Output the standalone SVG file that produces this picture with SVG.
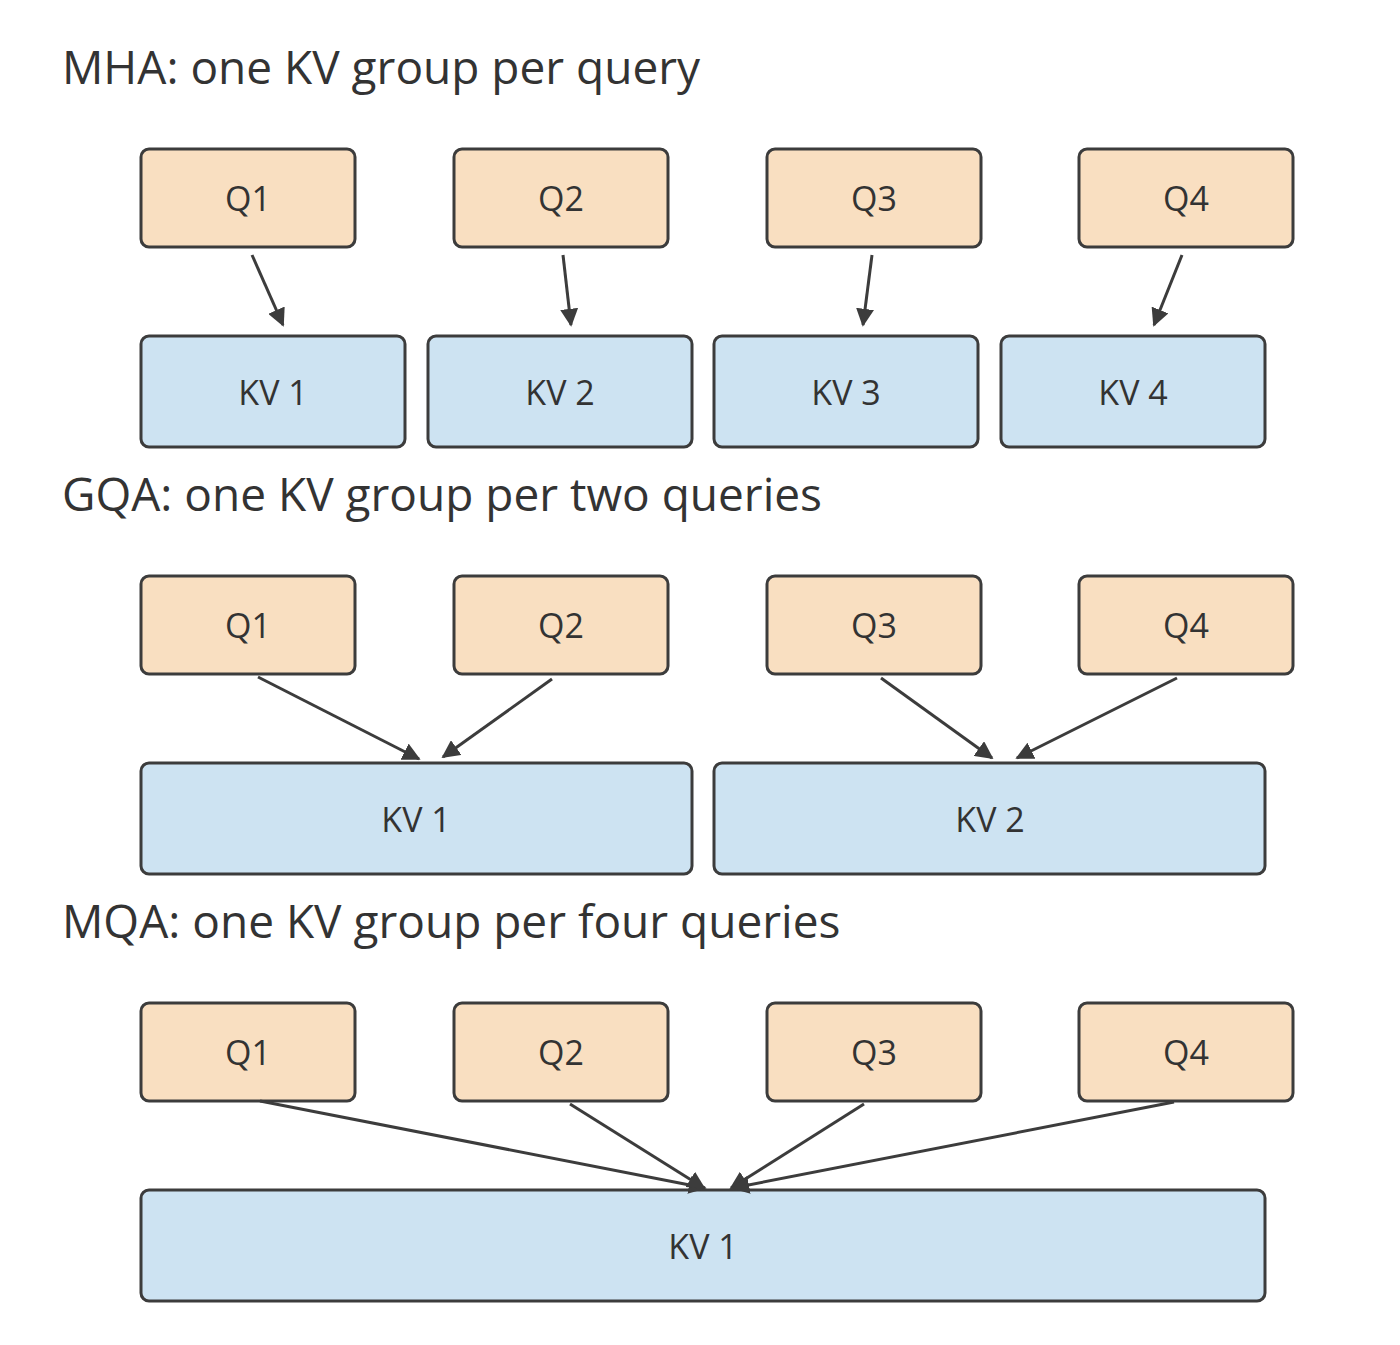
<svg xmlns="http://www.w3.org/2000/svg" width="1400" height="1345" viewBox="0 0 1400 1345">
<style>
.t{font-family:"Open Sans","Noto Sans",sans-serif;font-size:46px;fill:#333}
.l{font-family:"Open Sans","Noto Sans",sans-serif;font-size:34px;fill:#333;text-anchor:middle;dominant-baseline:central}
.q{fill:#f9dfc1;stroke:#3c3c3c;stroke-width:3}
.k{fill:#cde3f2;stroke:#3c3c3c;stroke-width:3}
.c{stroke:#3c3c3c;stroke-width:3;fill:none;marker-end:url(#a)}
</style>
<defs><marker id="a" viewBox="0 0 10 10" refX="9" refY="5" markerWidth="6" markerHeight="6" orient="auto" markerUnits="strokeWidth"><path d="M0,0L10,5L0,10z" fill="#3c3c3c"/></marker></defs>
<rect width="1400" height="1345" fill="#fff"/>
<text class="t" x="62" y="84">MHA: one KV group per query</text>
<text class="t" x="62" y="511">GQA: one KV group per two queries</text>
<text class="t" x="62" y="938">MQA: one KV group per four queries</text>
<g id="mha-q1"><rect class="q" x="141" y="149" width="214" height="98" rx="8"/><text class="l" x="248" y="198">Q1</text></g>
<g id="mha-q2"><rect class="q" x="454" y="149" width="214" height="98" rx="8"/><text class="l" x="561" y="198">Q2</text></g>
<g id="mha-q3"><rect class="q" x="767" y="149" width="214" height="98" rx="8"/><text class="l" x="874" y="198">Q3</text></g>
<g id="mha-q4"><rect class="q" x="1079" y="149" width="214" height="98" rx="8"/><text class="l" x="1186" y="198">Q4</text></g>
<g id="mha-kv1"><rect class="k" x="141" y="336" width="264" height="111" rx="8"/><text class="l" x="273" y="392">KV 1</text></g>
<g id="mha-kv2"><rect class="k" x="428" y="336" width="264" height="111" rx="8"/><text class="l" x="560" y="392">KV 2</text></g>
<g id="mha-kv3"><rect class="k" x="714" y="336" width="264" height="111" rx="8"/><text class="l" x="846" y="392">KV 3</text></g>
<g id="mha-kv4"><rect class="k" x="1001" y="336" width="264" height="111" rx="8"/><text class="l" x="1133" y="392">KV 4</text></g>
<g id="gqa-q1"><rect class="q" x="141" y="576" width="214" height="98" rx="8"/><text class="l" x="248" y="625">Q1</text></g>
<g id="gqa-q2"><rect class="q" x="454" y="576" width="214" height="98" rx="8"/><text class="l" x="561" y="625">Q2</text></g>
<g id="gqa-q3"><rect class="q" x="767" y="576" width="214" height="98" rx="8"/><text class="l" x="874" y="625">Q3</text></g>
<g id="gqa-q4"><rect class="q" x="1079" y="576" width="214" height="98" rx="8"/><text class="l" x="1186" y="625">Q4</text></g>
<g id="gqa-kv1"><rect class="k" x="141" y="763" width="551" height="111" rx="8"/><text class="l" x="416" y="819">KV 1</text></g>
<g id="gqa-kv2"><rect class="k" x="714" y="763" width="551" height="111" rx="8"/><text class="l" x="990" y="819">KV 2</text></g>
<g id="mqa-q1"><rect class="q" x="141" y="1003" width="214" height="98" rx="8"/><text class="l" x="248" y="1052">Q1</text></g>
<g id="mqa-q2"><rect class="q" x="454" y="1003" width="214" height="98" rx="8"/><text class="l" x="561" y="1052">Q2</text></g>
<g id="mqa-q3"><rect class="q" x="767" y="1003" width="214" height="98" rx="8"/><text class="l" x="874" y="1052">Q3</text></g>
<g id="mqa-q4"><rect class="q" x="1079" y="1003" width="214" height="98" rx="8"/><text class="l" x="1186" y="1052">Q4</text></g>
<g id="mqa-kv1"><rect class="k" x="141" y="1190" width="1124" height="111" rx="8"/><text class="l" x="703" y="1246">KV 1</text></g>
<g id="connectors">
<path class="c" d="M252,255L283,325"/>
<path class="c" d="M563,255L571,325"/>
<path class="c" d="M872,255L863,325"/>
<path class="c" d="M1182,255L1154,325"/>
<path class="c" d="M258,677L419,759"/>
<path class="c" d="M552,679L443,757"/>
<path class="c" d="M881,678L992,758"/>
<path class="c" d="M1177,678L1017,758"/>
<path class="c" d="M260,1101L705,1188"/>
<path class="c" d="M570,1104L704,1188"/>
<path class="c" d="M864,1104L731,1188"/>
<path class="c" d="M1174,1102L733,1188"/>
</g>
</svg>
